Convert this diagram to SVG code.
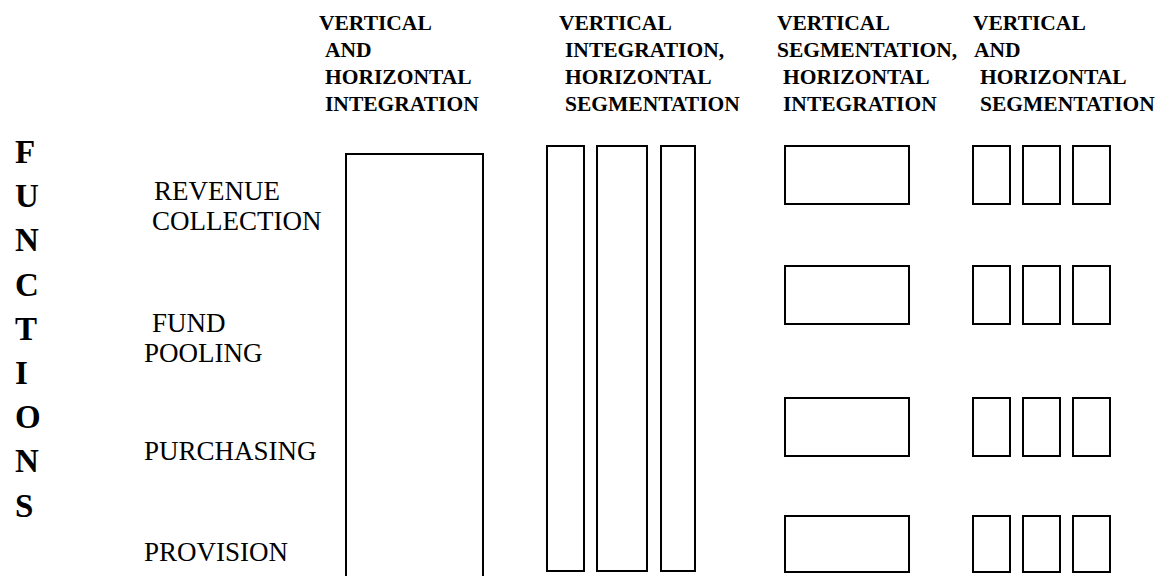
<svg xmlns="http://www.w3.org/2000/svg" width="1161" height="576" viewBox="0 0 1161 576">
<style>
.hd{font-family:"Liberation Serif","Times New Roman",serif;font-weight:bold;font-size:21.5px;fill:#000}
.lb{font-family:"Liberation Serif","Times New Roman",serif;font-size:27px;fill:#000}
.fn{font-family:"Liberation Serif","Times New Roman",serif;font-weight:bold;font-size:33px;fill:#000}
.bx{fill:#fff;stroke:#000;stroke-width:2}
</style>
<rect width="1161" height="576" fill="#fff"/>
<g id="headers">
<text class="hd" x="319" y="30">VERTICAL</text>
<text class="hd" x="325" y="57">AND</text>
<text class="hd" x="325" y="84">HORIZONTAL</text>
<text class="hd" x="325" y="111">INTEGRATION</text>
<text class="hd" x="559" y="30">VERTICAL</text>
<text class="hd" x="565" y="57">INTEGRATION,</text>
<text class="hd" x="565" y="84">HORIZONTAL</text>
<text class="hd" x="565" y="111">SEGMENTATION</text>
<text class="hd" x="777" y="30">VERTICAL</text>
<text class="hd" x="777" y="57">SEGMENTATION,</text>
<text class="hd" x="783" y="84">HORIZONTAL</text>
<text class="hd" x="783" y="111">INTEGRATION</text>
<text class="hd" x="973" y="30">VERTICAL</text>
<text class="hd" x="974" y="57">AND</text>
<text class="hd" x="980" y="84">HORIZONTAL</text>
<text class="hd" x="980" y="111">SEGMENTATION</text>
</g>
<g id="functions">
<text class="fn" x="15" y="163">F</text>
<text class="fn" x="15" y="207">U</text>
<text class="fn" x="15" y="251">N</text>
<text class="fn" x="15" y="296">C</text>
<text class="fn" x="15" y="340">T</text>
<text class="fn" x="15" y="384">I</text>
<text class="fn" x="15" y="428">O</text>
<text class="fn" x="15" y="472">N</text>
<text class="fn" x="15" y="517">S</text>
</g>
<g id="labels">
<text class="lb" x="154" y="200">REVENUE</text>
<text class="lb" x="152" y="230">COLLECTION</text>
<text class="lb" x="152" y="332">FUND</text>
<text class="lb" x="144" y="362">POOLING</text>
<text class="lb" x="144" y="460">PURCHASING</text>
<text class="lb" x="144" y="561">PROVISION</text>
</g>
<g id="col1">
<rect class="bx" x="346" y="154" width="137" height="460"/>
</g>
<g id="col2">
<rect class="bx" x="547" y="146" width="37" height="425"/>
<rect class="bx" x="597" y="146" width="50" height="425"/>
<rect class="bx" x="661" y="146" width="34" height="425"/>
</g>
<g id="col3">
<rect class="bx" x="785" y="146" width="124" height="58"/>
<rect class="bx" x="785" y="266" width="124" height="58"/>
<rect class="bx" x="785" y="398" width="124" height="58"/>
<rect class="bx" x="785" y="516" width="124" height="56"/>
</g>
<g id="col4">
<rect class="bx" x="973" y="146" width="37" height="58"/>
<rect class="bx" x="1023" y="146" width="37" height="58"/>
<rect class="bx" x="1073" y="146" width="37" height="58"/>
<rect class="bx" x="973" y="266" width="37" height="58"/>
<rect class="bx" x="1023" y="266" width="37" height="58"/>
<rect class="bx" x="1073" y="266" width="37" height="58"/>
<rect class="bx" x="973" y="398" width="37" height="58"/>
<rect class="bx" x="1023" y="398" width="37" height="58"/>
<rect class="bx" x="1073" y="398" width="37" height="58"/>
<rect class="bx" x="973" y="516" width="37" height="56"/>
<rect class="bx" x="1023" y="516" width="37" height="56"/>
<rect class="bx" x="1073" y="516" width="37" height="56"/>
</g>
<g id="connectors"></g>
</svg>
